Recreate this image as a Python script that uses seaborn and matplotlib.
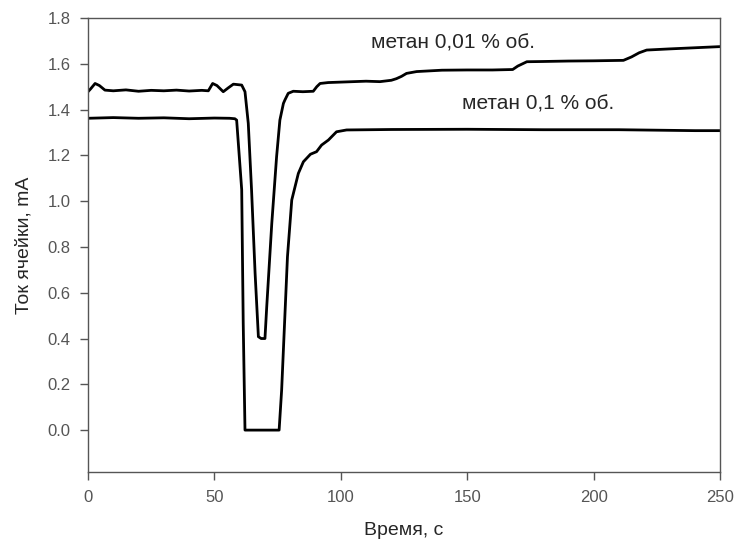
import matplotlib
matplotlib.use("Agg")
import matplotlib.pyplot as plt
import pandas as pd
import seaborn as sns

# methane 0.01 % vol.
time_low = [0, 1, 2.8, 4.5, 6.7, 10, 15, 20, 25, 30, 35, 40, 45, 47.6, 49.3, 51,
            53.5, 55.5, 57.5, 60.8, 62.1, 63.4, 64.7, 66.1, 67.4, 68.5, 70.0, 70.7,
            72.7, 74.6, 75.9, 77.3, 77.9, 79.2, 81.2, 85, 89.1, 90.5, 91.8, 95, 100,
            105, 110, 115.5, 120, 122, 124, 126, 130, 140, 150, 160, 168, 170, 173.6,
            180, 190, 200, 211.8, 215, 218, 221, 230, 240, 250]
current_low = [1.478, 1.49, 1.514, 1.505, 1.485, 1.482, 1.486, 1.480, 1.484, 1.482,
               1.485, 1.481, 1.484, 1.482, 1.514, 1.505, 1.478, 1.495, 1.511, 1.507,
               1.478, 1.34, 1.048, 0.685, 0.408, 0.40, 0.40, 0.539, 0.903, 1.194,
               1.354, 1.427, 1.442, 1.471, 1.48, 1.478, 1.48, 1.50, 1.514, 1.518,
               1.52, 1.522, 1.524, 1.522, 1.528, 1.535, 1.545, 1.558, 1.566, 1.572,
               1.573, 1.573, 1.575, 1.59, 1.609, 1.610, 1.612, 1.613, 1.615, 1.63,
               1.648, 1.66, 1.665, 1.670, 1.675]

# methane 0.1 % vol.
time_high = [0, 10, 20, 30, 40, 50, 56, 58.1, 58.8, 60.8, 61.4, 62.1, 75.6, 76.6,
             78.9, 80.6, 83.2, 85.2, 88, 90.4, 92.4, 95.1, 98.3, 102.3, 120, 150,
             180, 210, 240, 250]
current_high = [1.362, 1.365, 1.362, 1.364, 1.36, 1.363, 1.362, 1.36, 1.354, 1.05,
                0.467, 0.0, 0.0, 0.175, 0.757, 1.005, 1.121, 1.172, 1.205, 1.216,
                1.245, 1.267, 1.303, 1.311, 1.313, 1.314, 1.312, 1.312, 1.308, 1.308]

labels = ["метан 0,01 % об.", "метан 0,1 % об."]
label_pos = [(144.2, 1.689), (178, 1.424)]

sns.set_style("ticks")
plt.rcParams["font.family"] = ["Liberation Sans", "DejaVu Sans"]

fig, ax = plt.subplots(figsize=(7.37, 5.44), dpi=100)
fig.subplots_adjust(left=88 / 737, right=720 / 737, top=1 - 18 / 544, bottom=1 - 472 / 544)

df_low = pd.DataFrame({"t": time_low, "i": current_low})
df_high = pd.DataFrame({"t": time_high, "i": current_high})
sns.lineplot(data=df_low, x="t", y="i", color="black", lw=2.0, ax=ax, sort=False)
sns.lineplot(data=df_high, x="t", y="i", color="black", lw=2.0, ax=ax, sort=False)

for text, (x, y) in zip(labels, label_pos):
    ax.text(x, y, text, ha="center", va="center", fontsize=15)

ax.set_xlim(0, 250)
ax.set_ylim(-0.183, 1.8)
ax.set_xticks([0, 50, 100, 150, 200, 250])
ax.set_yticks([0.0, 0.2, 0.4, 0.6, 0.8, 1.0, 1.2, 1.4, 1.6, 1.8])
ax.set_yticklabels([f"{v:.1f}" for v in ax.get_yticks()])
ax.tick_params(axis="both", direction="out", length=5.5, width=1, colors="#555555",
               labelsize=12, labelcolor="#555555")
ax.tick_params(axis="x", pad=7.5)
ax.tick_params(axis="y", pad=7)
for side in ["top", "right", "left", "bottom"]:
    ax.spines[side].set_visible(True)
    ax.spines[side].set_color("#555555")
    ax.spines[side].set_linewidth(1)

ax.set_xlabel("Время, с", fontsize=14, labelpad=12)
ax.set_ylabel("Ток ячейки, mA", fontsize=14, labelpad=11)

fig.savefig("out.png", dpi=100)
